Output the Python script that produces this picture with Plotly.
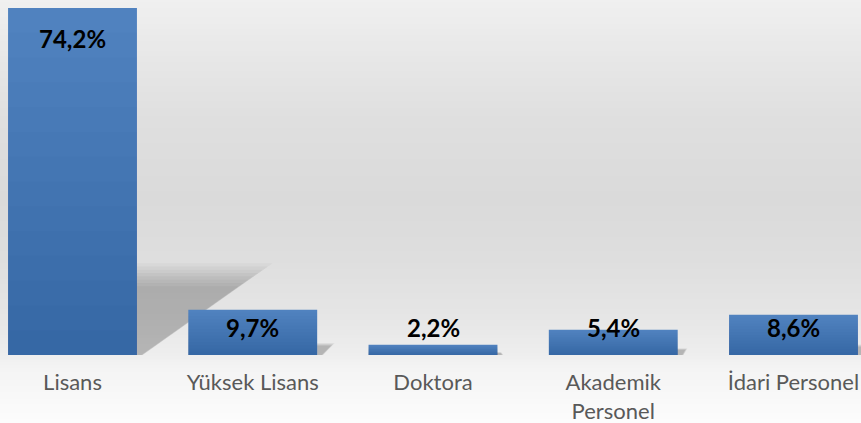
import plotly.graph_objects as go

categories = ["Lisans", "Yüksek Lisans", "Doktora", "Akademik<br>Personel", "İdari Personel"]
values = [74.2, 9.7, 2.2, 5.4, 8.6]
value_labels = ["74,2%", "9,7%", "2,2%", "5,4%", "8,6%"]

W, H = 861, 423
PLOT_BOTTOM = 355
BAR_W = 0.715
x_pos = list(range(len(categories)))

fig = go.Figure()

# --- background gradient (wall + floor) ---
stops = [(0, 240), (60, 231), (120, 223), (200, 218), (260, 222), (320, 230),
         (355, 238), (370, 244), (423, 252)]
def gray_at(y):
    for (y0, g0), (y1, g1) in zip(stops[:-1], stops[1:]):
        if y0 <= y <= y1:
            t = (y - y0) / (y1 - y0)
            return g0 + t * (g1 - g0)
    return stops[-1][1]

shapes = []
step = 3
for y in range(0, H, step):
    g = int(round(gray_at(y + step / 2)))
    y0 = 1 - (y + step) / PLOT_BOTTOM
    y1 = 1 - y / PLOT_BOTTOM
    shapes.append(dict(type="rect", xref="paper", yref="paper", x0=-0.01, x1=1.01,
                       y0=y0 - 0.002, y1=y1 + 0.002, layer="below",
                       line=dict(width=0), fillcolor=f"rgb({g},{g},{g})"))

# --- soft perspective shadows behind bars ---
for i, v in enumerate(values):
    hs = v * 0.236
    d = hs * 0.0384
    x0 = i + BAR_W / 2
    for s in (1.12, 1.08, 1.04, 1.0, 0.96, 0.92, 0.88, 0.84):
        shapes.append(dict(type="path", xref="x", yref="y", layer="below",
                           path=f"M {x0 - 0.01},0 L {x0 - 0.01},{hs * s} L {x0 + d * s},{hs * s} L {x0 + 0.03 * s},0 Z",
                           fillcolor="rgba(0,0,0,0.03)", line=dict(width=0)))

# --- bars with vertical gradient built from stacked translucent overlays ---
fig.add_trace(go.Bar(x=x_pos, y=values, width=BAR_W, marker=dict(color="#5082bf", line=dict(width=0)),
                     hoverinfo="skip", showlegend=False))
N = 14
for k in range(1, N):
    frac = 1 - k / N
    fig.add_trace(go.Bar(x=x_pos, y=[v * frac for v in values], width=BAR_W,
                         marker=dict(color="rgba(20,50,100,0.021)", line=dict(width=0)),
                         hoverinfo="skip", showlegend=False))

# --- value labels ---
annotations = []
for i, (v, lab) in enumerate(zip(values, value_labels)):
    if v > 20:
        annotations.append(dict(x=i, y=v, xref="x", yref="y", yanchor="top", yshift=-14,
                                text=f"<b>{lab}</b>", showarrow=False,
                                font=dict(family="Lato", size=24, color="#000000")))
    else:
        annotations.append(dict(x=i, y=0.078, xref="x", yref="paper", yanchor="middle",
                                text=f"<b>{lab}</b>", showarrow=False,
                                font=dict(family="Lato", size=24, color="#000000")))

px_per_cat = 180.25
left = -72.5 / px_per_cat
right = left + W / px_per_cat

fig.update_layout(
    width=W, height=H,
    margin=dict(l=0, r=0, t=0, b=H - PLOT_BOTTOM, autoexpand=False),
    barmode="overlay",
    paper_bgcolor="rgba(0,0,0,0)", plot_bgcolor="rgba(0,0,0,0)",
    shapes=shapes, annotations=annotations,
    xaxis=dict(range=[left, right], tickvals=x_pos, ticktext=categories,
               showgrid=False, zeroline=False, showline=False,
               ticks="outside", ticklen=8, tickcolor="rgba(0,0,0,0)",
               tickfont=dict(family="Lato", size=22, color="#595959"), automargin=False),
    yaxis=dict(range=[0, 75.9], visible=False, automargin=False),
    showlegend=False,
)

fig.write_html("out.html", config={"displayModeBar": False},
               post_script="document.body.style.margin='0';document.body.style.overflow='hidden';")
